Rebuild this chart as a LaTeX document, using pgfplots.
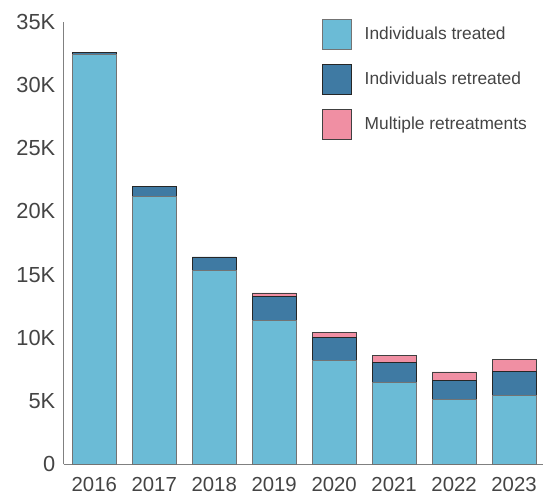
\documentclass[border=0pt]{standalone}
\usepackage{pgfplots}
\pgfplotsset{compat=1.18}
\usepackage{fontspec}
\setmainfont{Liberation Sans}
\definecolor{cTreat}{HTML}{6BBBD6}
\definecolor{cRet}{HTML}{3F7AA3}
\definecolor{cMult}{HTML}{F08FA3}
\definecolor{txt}{HTML}{444444}
\begin{document}
\begin{tikzpicture}
\begin{axis}[
  scale only axis,
  width=483pt, height=446pt,
  ybar stacked,
  bar width=0.73,
  xmin=-0.51, xmax=7.48,
  ymin=0, ymax=35000,
  scaled y ticks=false,
  xtick={0,...,7},
  xticklabels={2016,2017,2018,2019,2020,2021,2022,2023},
  ytick={0,5000,10000,15000,20000,25000,30000,35000},
  yticklabels={0,5K,10K,15K,20K,25K,30K,35K},
  axis x line*=bottom, axis y line*=left,
  axis line style={draw=black!50, line width=0.9pt},
  major tick length=0pt,
  yticklabel style={font=\fontsize{22}{22}\selectfont, text=txt, xshift=-5pt},
  xticklabel style={font=\fontsize{20.5}{20.5}\selectfont, text=txt, inner ysep=0pt, text depth=0pt, yshift=-12.5pt},
  /pgf/number format/assume math mode=true,
  legend style={draw=none, at={(0.538,1.007)}, anchor=north west, inner sep=0pt,
    font=\fontsize{17.5}{17.5}\selectfont, text=txt, row sep=14.5pt},
  legend cell align=left,
  legend image code/.code={\draw[#1, line width=0.8pt] (0pt,-15pt) rectangle (30pt,15pt); \path[draw=none, fill=none] (0pt,0pt) -- (41pt,0pt);},
]
\addplot[fill=cTreat, draw=black!55, line width=0.8pt] coordinates {(0,32400) (1,21200) (2,15300) (3,11400) (4,8200) (5,6500) (6,5100) (7,5450)};
\addplot[fill=cRet, draw=black!85, line width=0.8pt] coordinates {(0,200) (1,800) (2,1100) (3,1900) (4,1800) (5,1550) (6,1550) (7,1900)};
\addplot[fill=cMult, draw=black!75, line width=0.8pt] coordinates {(0,0) (1,0) (2,0) (3,250) (4,400) (5,550) (6,650) (7,950)};
\legend{Individuals treated, Individuals retreated, Multiple retreatments}
\end{axis}
\pgfresetboundingbox
\path (-64.2pt,-33pt) rectangle (487.2pt,468pt);
\end{tikzpicture}
\end{document}
